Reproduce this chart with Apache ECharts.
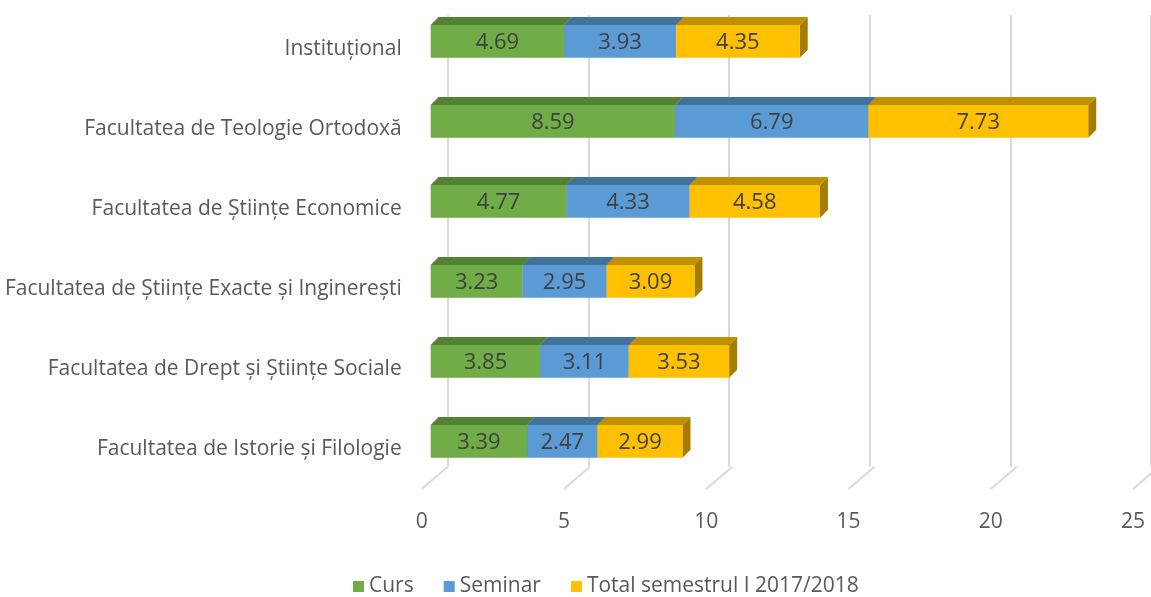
<!DOCTYPE html>
<html>
<head>
<meta charset="utf-8">
<script src="https://cdn.jsdelivr.net/npm/echarts@6/dist/echarts.min.js"></script>
<style>
  html, body { margin: 0; padding: 0; background: #fff; }
  #chart { width: 1151px; height: 597px; }
</style>
</head>
<body>
<div id="chart"></div>
<script>
const categories = [
  "Instituțional",
  "Facultatea de Teologie Ortodoxă",
  "Facultatea de Științe Economice",
  "Facultatea de Științe Exacte și Inginerești",
  "Facultatea de Drept și Științe Sociale",
  "Facultatea de Istorie și Filologie"
];
const curs = [4.69, 8.59, 4.77, 3.23, 3.85, 3.39];
const seminar = [3.93, 6.79, 4.33, 2.95, 3.11, 2.47];
const total = [4.35, 7.73, 4.58, 3.09, 3.53, 2.99];
const valueTicks = [0, 5, 10, 15, 20, 25];

const FONT = "'Open Sans', sans-serif";
// depth of the 3d box
const DX = 8, DY = 8;
// depth of the floor (front edge -> back wall)
const FLOOR_DX = 26, FLOOR_DY = 22.3;

const seriesDefs = [
  { name: "Curs", values: curs, front: "#70AD47", top: "#548235", side: "#4a7530" },
  { name: "Seminar", values: seminar, front: "#5B9BD5", top: "#41719C", side: "#386390" },
  { name: "Total semestrul I 2017/2018", values: total, front: "#FFC000", top: "#BF9000", side: "#A67D00" }
];

// stacked [start, end, category index, value]
const stackBase = categories.map(() => 0);
const stacked = seriesDefs.map(def => def.values.map((v, i) => {
  const s = stackBase[i];
  stackBase[i] += v;
  return [s, s + v, i, v];
}));

function boxRenderer(def) {
  return function (params, api) {
    const s = api.value(0), e = api.value(1), cat = api.value(2), v = api.value(3);
    const p0 = api.coord([s, cat]);
    const p1 = api.coord([e, cat]);
    const h = api.size([0, 1])[1] * 0.41;
    const x0 = p0[0], x1 = p1[0], yt = p0[1] - h / 2, yb = p0[1] + h / 2;
    return {
      type: "group",
      children: [
        {
          type: "polygon",
          shape: { points: [[x0, yt], [x1, yt], [x1 + DX, yt - DY], [x0 + DX, yt - DY]] },
          style: { fill: def.top }
        },
        {
          type: "polygon",
          shape: { points: [[x1, yt], [x1 + DX, yt - DY], [x1 + DX, yb - DY], [x1, yb]] },
          style: { fill: def.side }
        },
        {
          type: "rect",
          shape: { x: x0, y: yt, width: x1 - x0, height: h },
          style: { fill: def.front }
        },
        {
          type: "text",
          x: (x0 + x1) / 2,
          y: (yt + yb) / 2 + 1,
          style: {
            text: v.toFixed(2),
            fill: "#404040",
            font: "22px " + FONT,
            align: "center",
            verticalAlign: "middle"
          }
        }
      ]
    };
  };
}

const chart = echarts.init(document.getElementById("chart"));

const option = {
  animation: false,
  color: seriesDefs.map(d => d.front),
  legend: {
    top: 571,
    left: 348,
    icon: "rect",
    itemWidth: 11,
    itemHeight: 11,
    itemGap: 30,
    textStyle: { color: "#595959", fontSize: 21, fontFamily: FONT },
    data: seriesDefs.map(d => d.name)
  },
  grid: [
    // back wall
    { left: 447.7, top: 15, width: 711.3, height: 451.7 },
    // floor front edge (axis labels)
    { left: 421.7, top: 9, width: 711.3, height: 480 },
    // front plane of the bars
    { left: 430.7, top: 1.3, width: 711.3, height: 480 }
  ],
  xAxis: [
    {
      gridIndex: 0, type: "value", min: 0, max: 25, interval: 5,
      axisLine: { show: false }, axisTick: { show: false }, axisLabel: { show: false },
      splitLine: { show: true, lineStyle: { color: "#d9d9d9", width: 2 } }
    },
    {
      gridIndex: 1, type: "value", min: 0, max: 25, interval: 5,
      axisLine: { show: false }, axisTick: { show: false }, splitLine: { show: false },
      axisLabel: { margin: 23, color: "#595959", fontSize: 21, fontFamily: FONT }
    },
    {
      gridIndex: 2, type: "value", min: 0, max: 25, interval: 5,
      axisLine: { show: false }, axisTick: { show: false }, axisLabel: { show: false },
      splitLine: { show: false }
    }
  ],
  yAxis: [
    {
      gridIndex: 0, type: "value", min: 0, max: 1,
      axisLine: { show: false }, axisTick: { show: false }, axisLabel: { show: false },
      splitLine: { show: false }
    },
    {
      gridIndex: 1, type: "category", inverse: true, data: categories,
      axisLine: { show: false }, axisTick: { show: false }, splitLine: { show: false },
      axisLabel: { margin: 20, color: "#595959", fontSize: 21, fontFamily: FONT }
    },
    {
      gridIndex: 2, type: "category", inverse: true, data: categories,
      axisLine: { show: false }, axisTick: { show: false }, axisLabel: { show: false },
      splitLine: { show: false }
    }
  ],
  series: [
    {
      type: "custom",
      name: "floor",
      xAxisIndex: 1,
      yAxisIndex: 1,
      silent: true,
      z: 1,
      data: valueTicks.map(t => [t, 0]),
      renderItem: function (params, api) {
        const cs = params.coordSys;
        const x = api.coord([api.value(0), 0])[0];
        const y = cs.y + cs.height;
        return {
          type: "line",
          shape: { x1: x, y1: y, x2: x + FLOOR_DX, y2: y - FLOOR_DY },
          style: { stroke: "#d9d9d9", lineWidth: 2 }
        };
      }
    }
  ].concat(seriesDefs.map((def, k) => ({
    type: "custom",
    name: def.name,
    xAxisIndex: 2,
    yAxisIndex: 2,
    z: 3,
    itemStyle: { color: def.front },
    data: stacked[k],
    renderItem: boxRenderer(def)
  })))
};

chart.setOption(option);
</script>
</body>
</html>
